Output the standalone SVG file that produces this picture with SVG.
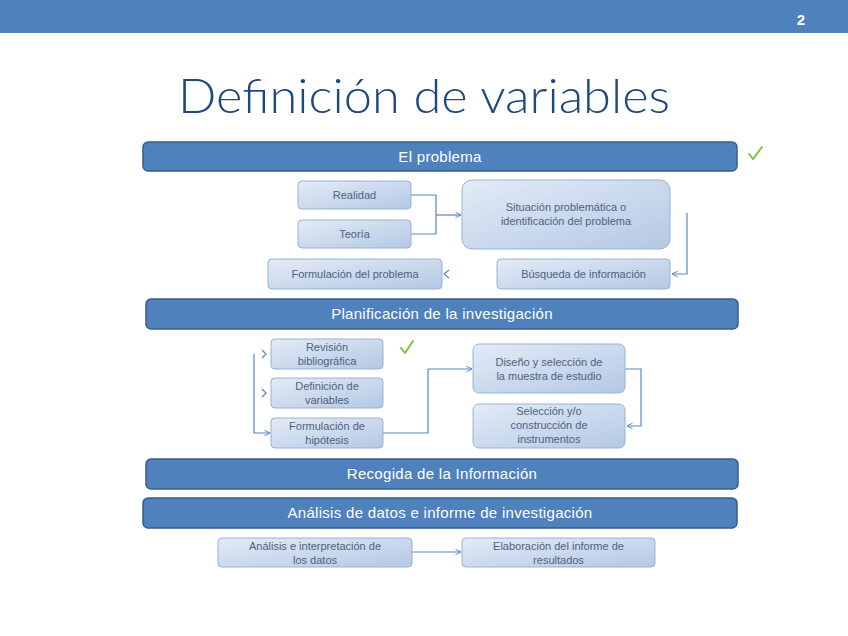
<svg xmlns="http://www.w3.org/2000/svg" width="848" height="636" viewBox="0 0 848 636">
<defs>
<linearGradient id="g" x1="0" y1="0" x2="1" y2="1">
<stop offset="0" stop-color="#E3EBF6"/>
<stop offset="1" stop-color="#B4C8E4"/>
</linearGradient>
<marker id="ar" viewBox="0 0 10 10" refX="9" refY="5" markerWidth="7" markerHeight="7" orient="auto" markerUnits="userSpaceOnUse">
<path d="M1,1 L9,5 L1,9" fill="none" stroke="#5B86C0" stroke-width="1.4"/>
</marker>
<style>
.bar{fill:#4F81BD;stroke:#385D8A;stroke-width:1.5}
.bt{font-family:"Liberation Sans",Arial,sans-serif;font-size:15px;fill:#FFFFFF;text-anchor:middle;letter-spacing:0.3px}
.nd{fill:url(#g);stroke:#95B3D7;stroke-width:1}
.nt{font-family:"Liberation Sans",Arial,sans-serif;font-size:11px;fill:#4F6180;text-anchor:middle}
.cn{fill:none;stroke:#5B86C0;stroke-width:1.2}
.ck{fill:none;stroke:#7DC243;stroke-width:2;stroke-linecap:round;stroke-linejoin:round}
</style>
</defs>
<rect x="0" y="0" width="848" height="636" fill="#FFFFFF"/>
<rect x="0" y="0" width="848" height="33" fill="#4F81BD"/>
<text x="801" y="25" font-family="Liberation Sans,Arial,sans-serif" font-size="15" font-weight="bold" fill="#FFFFFF" text-anchor="middle">2</text>
<text x="424" y="113" font-family="Lato,'Liberation Sans',Arial,sans-serif" font-weight="300" font-size="47" fill="#1F497D" text-anchor="middle" textLength="492" lengthAdjust="spacingAndGlyphs">Definición de variables</text>

<g id="connectors">
<path class="cn" d="M411,195 H436 V234 H411"/>
<path class="cn" d="M436,215 H461" marker-end="url(#ar)"/>
<path class="cn" d="M687,213 V274 H672" marker-end="url(#ar)"/>
<path class="cn" d="M449,270 L444,274 L449,278"/>
<path class="cn" d="M254,354 V433 H270" marker-end="url(#ar)"/>
<path class="cn" d="M262,350 L266,354 L262,358"/>
<path class="cn" d="M262,389 L266,393 L262,397"/>
<path class="cn" d="M383,433 H428 V369 H472" marker-end="url(#ar)"/>
<path class="cn" d="M625,369 H641 V426 H627" marker-end="url(#ar)"/>
<path class="cn" d="M412,552 H461" marker-end="url(#ar)"/>
</g>

<g id="el-problema">
<rect class="bar" x="143" y="142" width="594" height="29" rx="5"/>
<text class="bt" x="440" y="162">El problema</text>
</g>
<g id="check1"><path class="ck" d="M749,154 L753,159 L762,147"/></g>

<g id="realidad">
<rect class="nd" x="298" y="181" width="113" height="28" rx="4"/>
<text class="nt" x="354.5" y="199">Realidad</text>
</g>
<g id="teoria">
<rect class="nd" x="298" y="220" width="113" height="28" rx="4"/>
<text class="nt" x="354.5" y="238">Teoría</text>
</g>
<g id="situacion">
<rect class="nd" x="462" y="180" width="208" height="69" rx="10"/>
<text class="nt" x="566" y="211">Situación problemática o</text>
<text class="nt" x="566" y="225">identificación del problema</text>
</g>
<g id="formulacion-problema">
<rect class="nd" x="268" y="259" width="174" height="30" rx="4"/>
<text class="nt" x="355" y="278">Formulación del problema</text>
</g>
<g id="busqueda">
<rect class="nd" x="497" y="259" width="173" height="30" rx="4"/>
<text class="nt" x="583.5" y="278">Búsqueda de información</text>
</g>

<g id="planificacion">
<rect class="bar" x="146" y="299" width="592" height="30" rx="5"/>
<text class="bt" x="442" y="319">Planificación de la investigación</text>
</g>

<g id="revision">
<rect class="nd" x="271" y="339" width="112" height="30" rx="4"/>
<text class="nt" x="327" y="351">Revisión</text>
<text class="nt" x="327" y="365">bibliográfica</text>
</g>
<g id="check2"><path class="ck" d="M401,348 L405,353 L413,341"/></g>
<g id="definicion">
<rect class="nd" x="271" y="378" width="112" height="30" rx="4"/>
<text class="nt" x="327" y="390">Definición de</text>
<text class="nt" x="327" y="404">variables</text>
</g>
<g id="hipotesis">
<rect class="nd" x="271" y="418" width="112" height="30" rx="4"/>
<text class="nt" x="327" y="430">Formulación de</text>
<text class="nt" x="327" y="444">hipótesis</text>
</g>
<g id="diseno">
<rect class="nd" x="473" y="344" width="152" height="49" rx="6"/>
<text class="nt" x="549" y="366">Diseño y selección de</text>
<text class="nt" x="549" y="380">la muestra de estudio</text>
</g>
<g id="seleccion">
<rect class="nd" x="473" y="404" width="152" height="44" rx="6"/>
<text class="nt" x="549" y="415">Selección y/o</text>
<text class="nt" x="549" y="429">construcción de</text>
<text class="nt" x="549" y="443">instrumentos</text>
</g>

<g id="recogida">
<rect class="bar" x="146" y="459" width="592" height="30" rx="5"/>
<text class="bt" x="442" y="479">Recogida de la Información</text>
</g>
<g id="analisis-bar">
<rect class="bar" x="143" y="498" width="594" height="30" rx="5"/>
<text class="bt" x="440" y="518">Análisis de datos e informe de investigación</text>
</g>

<g id="analisis">
<rect class="nd" x="218" y="538" width="194" height="29" rx="4"/>
<text class="nt" x="315" y="550">Análisis e interpretación de</text>
<text class="nt" x="315" y="564">los datos</text>
</g>
<g id="elaboracion">
<rect class="nd" x="462" y="538" width="193" height="29" rx="4"/>
<text class="nt" x="558.5" y="550">Elaboración del informe de</text>
<text class="nt" x="558.5" y="564">resultados</text>
</g>
</svg>
